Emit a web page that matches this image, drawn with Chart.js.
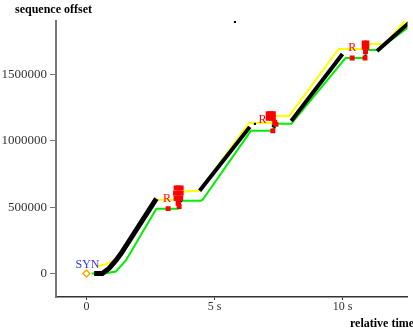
<!DOCTYPE html>
<html>
<head>
<meta charset="utf-8">
<script src="https://cdn.jsdelivr.net/npm/chart.js@4.4.0/dist/chart.umd.min.js"></script>
<style>
  html, body { margin: 0; padding: 0; background: #fff; }
</style>
</head>
<body>
<canvas id="trace" width="413" height="332"></canvas>
<script>
  // axis ticks
  var xTicks = [0, 5, 10];
  var xTickLabels = ['0', '5 s', '10 s'];
  var yTicks = [0, 500000, 1000000, 1500000];
  var yTickLabels = ['0', '500000', '1000000', '1500000'];

  // SYN
  var synT = [0];
  var synSeq = [0];

  // data segments (black)
  var seg1T = [0.3, 0.62, 0.88, 1.15, 1.35, 2.73];
  var seg1Seq = [0, 0, 38000, 98000, 150000, 564000];
  var seg2T = [4.42, 6.38];
  var seg2Seq = [624000, 1105000];
  var seg3T = [8.0, 10.0];
  var seg3Seq = [1150000, 1654000];
  var seg4T = [11.35, 12.6];
  var seg4Seq = [1677000, 1890000];

  // stray data packets
  var dotT = [5.8, 6.58, 3.65, 3.7, 7.28, 7.35, 10.9];
  var dotSeq = [1896000, 1128000, 526000, 545000, 1113000, 1100000, 1640000];

  // retransmissions (red)
  var rtxT = [3.5, 3.6, 3.7, 3.48, 3.6, 3.7, 3.5, 3.62, 3.68, 3.58, 3.62, 3.19,
              7.1, 7.2, 7.3, 7.1, 7.22, 7.3, 7.35, 7.4, 7.28,
              10.85, 10.95, 10.85, 10.95, 10.9, 10.38, 10.88];
  var rtxSeq = [645000, 645000, 645000, 605000, 605000, 605000, 565000, 565000, 565000, 530000, 505000, 489000,
                1205000, 1205000, 1205000, 1170000, 1170000, 1170000, 1140000, 1125000, 1075000,
                1737000, 1737000, 1705000, 1705000, 1672000, 1624000, 1624000];

  // ack line (green)
  var ackT = [0.2, 0.69, 1.15, 1.54, 2.73, 3.6, 3.6, 4.46, 4.54, 6.42, 7.3, 7.3, 8.0, 10.12, 10.9, 10.9, 11.38, 12.6];
  var ackSeq = [0, 0, 15000, 98000, 489000, 489000, 549000, 549000, 556000, 1075000, 1075000, 1128000, 1128000, 1624000, 1624000, 1684000, 1684000, 1860000];

  // window line (yellow)
  var winT = [0.42, 0.73, 1.08, 1.35, 2.73, 3.6, 3.6, 4.42, 6.35, 7.25, 7.25, 7.92, 9.85, 10.9, 10.9, 11.65, 12.6];
  var winSeq = [53000, 68000, 98000, 158000, 556000, 556000, 617000, 624000, 1135000, 1135000, 1188000, 1188000, 1692000, 1692000, 1729000, 1729000, 1940000];

  // text marks
  var markText = ['SYN', 'R', 'R', 'R'];
  var markT = [0.04, 3.15, 6.88, 10.38];
  var markSeq = [64000, 561000, 1160000, 1700000];
  var markColor = ['#3333ff', '#ff0000', '#ff0000', '#ff0000'];

  function pts(ts, ss) {
    return ts.map(function (t, i) { return { x: t, y: ss[i] }; });
  }

  var serif = "'Liberation Serif', 'DejaVu Serif', serif";

  function blackSeg(ts, ss, w) {
    return {
      data: pts(ts, ss),
      showLine: true,
      borderColor: '#000',
      borderWidth: w,
      pointRadius: 0,
      order: 2
    };
  }

  var textPlugin = {
    id: 'textPlugin',
    afterDatasetsDraw: function (chart) {
      var ctx = chart.ctx;
      var xs = chart.scales.x, ys = chart.scales.y;
      ctx.save();
      ctx.textAlign = 'center';
      ctx.textBaseline = 'middle';
      ctx.font = '12px ' + serif;
      for (var i = 0; i < markText.length; i++) {
        ctx.fillStyle = markColor[i];
        ctx.fillText(markText[i], xs.getPixelForValue(markT[i]), ys.getPixelForValue(markSeq[i]));
      }
      ctx.fillStyle = '#000';
      ctx.font = 'bold 12px ' + serif;
      ctx.textAlign = 'left';
      ctx.textBaseline = 'alphabetic';
      ctx.fillText('sequence offset', 15, 13);
      ctx.fillText('relative time', 350, 327);
      ctx.restore();
    }
  };

  var ctx = document.getElementById('trace').getContext('2d');
  var chart = new Chart(ctx, {
    type: 'scatter',
    data: {
      datasets: [
        {
          data: pts(synT, synSeq),
          pointStyle: 'rectRot',
          pointRadius: 3.5,
          borderColor: '#ffa500',
          borderWidth: 1.5,
          backgroundColor: 'rgba(0,0,0,0)',
          order: 0
        },
        {
          data: pts(rtxT, rtxSeq),
          pointStyle: 'rect',
          pointRadius: 3.5,
          backgroundColor: '#ff0000',
          borderWidth: 0,
          order: 1
        },
        blackSeg(seg1T, seg1Seq, 5),
        blackSeg(seg2T, seg2Seq, 4),
        blackSeg(seg3T, seg3Seq, 4),
        blackSeg(seg4T, seg4Seq, 4),
        {
          data: pts(dotT, dotSeq),
          pointStyle: 'rect',
          pointRadius: 1.5,
          backgroundColor: '#000',
          borderWidth: 0,
          order: 2
        },
        {
          data: pts(winT, winSeq),
          showLine: true,
          borderColor: '#ffff00',
          borderWidth: 2,
          pointRadius: 0,
          order: 3
        },
        {
          data: pts(ackT, ackSeq),
          showLine: true,
          borderColor: '#00ee00',
          borderWidth: 2,
          pointRadius: 0,
          order: 3
        }
      ]
    },
    options: {
      responsive: false,
      animation: false,
      layout: { padding: { top: 21, right: 0, left: 0, bottom: 0 } },
      plugins: {
        legend: { display: false },
        tooltip: { enabled: false }
      },
      scales: {
        x: {
          type: 'linear',
          min: -1.19,
          max: 12.54,
          afterBuildTicks: function (scale) {
            scale.ticks = xTicks.map(function (v) { return { value: v }; });
          },
          afterFit: function (scale) { scale.height = 35; },
          ticks: {
            padding: 0,
            color: '#333',
            font: { family: serif, size: 12 },
            callback: function (value, index) { return xTickLabels[index]; }
          },
          grid: { drawOnChartArea: false, tickLength: 3, color: '#333' },
          border: { color: '#333', width: 1.5 }
        },
        y: {
          min: -177000,
          max: 1903000,
          afterBuildTicks: function (scale) {
            scale.ticks = yTicks.map(function (v) { return { value: v }; });
          },
          afterFit: function (scale) { scale.width = 56; },
          ticks: {
            padding: 3,
            color: '#333',
            font: { family: serif, size: 13 },
            callback: function (value, index) { return yTickLabels[index]; }
          },
          grid: { drawOnChartArea: false, tickLength: 6, color: '#777' },
          border: { color: '#777', width: 2 }
        }
      }
    },
    plugins: [textPlugin]
  });
</script>
</body>
</html>
